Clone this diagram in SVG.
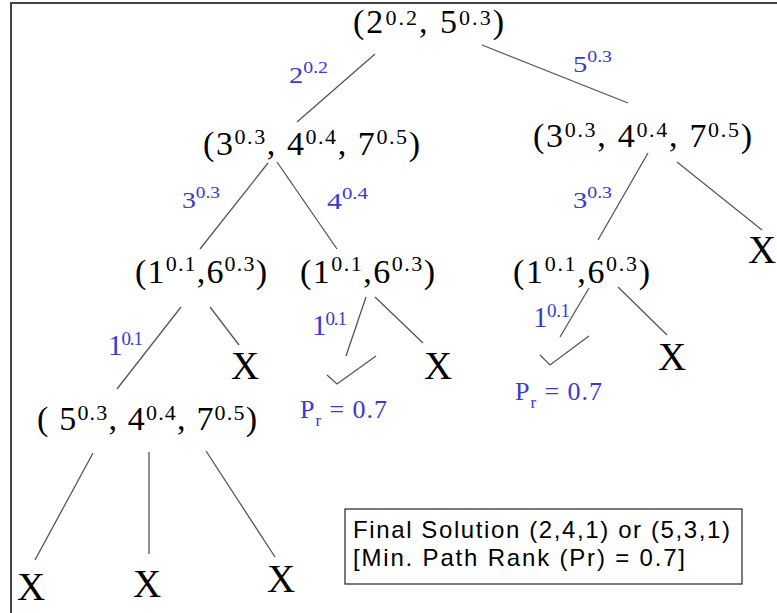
<svg xmlns="http://www.w3.org/2000/svg" width="777" height="613" viewBox="0 0 777 613">
<style>
.m{font-family:"Liberation Serif","Times New Roman",serif;font-size:34px;fill:#000}
.s{font-size:22px}
.x{font-family:"Liberation Serif","Times New Roman",serif;font-size:39px;fill:#000;text-anchor:middle}
.b{font-family:"Liberation Serif","Times New Roman",serif;font-size:23px;fill:#3a3ad0}
.bs{font-size:16px}
.b1{font-family:"Liberation Serif","Times New Roman",serif;font-size:29px;fill:#3a3ad0}
.b1s{font-size:19px}
.p{font-family:"Liberation Serif","Times New Roman",serif;font-size:26px;fill:#3a3ad0}
.ps{font-size:17px}
.c line,.c polyline{stroke:#555;stroke-width:1.3;fill:none}
.box{font-family:"Liberation Sans",Arial,sans-serif;font-size:24px;fill:#000}
</style>
<rect width="777" height="613" fill="#fff"/>
<g id="frame" stroke="#444" stroke-width="2">
<line x1="11" y1="3" x2="777" y2="3"/>
<line x1="11" y1="2" x2="11" y2="613"/>
</g>
<g id="connectors" class="c">
<line x1="375" y1="54" x2="297" y2="122"/>
<line x1="482" y1="45" x2="628" y2="103"/>
<line x1="268" y1="163" x2="200" y2="249"/>
<line x1="277" y1="162" x2="337" y2="249"/>
<line x1="648" y1="153" x2="598" y2="240"/>
<line x1="677" y1="162" x2="762" y2="230"/>
<line x1="181" y1="307" x2="117" y2="389"/>
<line x1="210" y1="307" x2="239" y2="345"/>
<line x1="366" y1="297" x2="346" y2="356"/>
<line x1="375" y1="297" x2="423" y2="343"/>
<line x1="589" y1="288" x2="560" y2="337"/>
<line x1="618" y1="287" x2="667" y2="335"/>
<line x1="93" y1="453" x2="35" y2="560"/>
<line x1="149" y1="452" x2="149" y2="554"/>
<line x1="206" y1="451" x2="275" y2="557"/>
<polyline points="327,375 337,384 376,356"/>
<polyline points="540,355 550,365 589,336"/>
</g>
<g id="edge-labels">
<text class="b" x="289" y="83" textLength="39" lengthAdjust="spacingAndGlyphs">2<tspan class="bs" dy="-10">0.2</tspan></text>
<text class="b" x="573" y="72" textLength="39" lengthAdjust="spacingAndGlyphs">5<tspan class="bs" dy="-10">0.3</tspan></text>
<text class="b" x="182" y="208" textLength="38" lengthAdjust="spacingAndGlyphs">3<tspan class="bs" dy="-10">0.3</tspan></text>
<text class="b" x="327" y="209" textLength="41" lengthAdjust="spacingAndGlyphs">4<tspan class="bs" dy="-10">0.4</tspan></text>
<text class="b" x="573" y="208" textLength="39" lengthAdjust="spacingAndGlyphs">3<tspan class="bs" dy="-10">0.3</tspan></text>
<text class="b1" x="108" y="355" textLength="35" lengthAdjust="spacing">1<tspan class="b1s" dy="-10">0.1</tspan></text>
<text class="b1" x="312" y="335" textLength="35" lengthAdjust="spacing">1<tspan class="b1s" dy="-10">0.1</tspan></text>
<text class="b1" x="533" y="327" textLength="37" lengthAdjust="spacing">1<tspan class="b1s" dy="-10">0.1</tspan></text>
</g>
<g id="root"><text class="m" x="353" y="33" textLength="151" lengthAdjust="spacing">(2<tspan class="s" dy="-8">0.2</tspan><tspan dy="8">, 5</tspan><tspan class="s" dy="-8">0.3</tspan><tspan dy="8">)</tspan></text></g>
<g id="n-left"><text class="m" x="203" y="155" textLength="217" lengthAdjust="spacing">(3<tspan class="s" dy="-11">0.3</tspan><tspan dy="11">, 4</tspan><tspan class="s" dy="-11">0.4</tspan><tspan dy="11">, 7</tspan><tspan class="s" dy="-11">0.5</tspan><tspan dy="11">)</tspan></text></g>
<g id="n-right"><text class="m" x="533" y="147" textLength="219" lengthAdjust="spacing">(3<tspan class="s" dy="-10">0.3</tspan><tspan dy="10">, 4</tspan><tspan class="s" dy="-10">0.4</tspan><tspan dy="10">, 7</tspan><tspan class="s" dy="-10">0.5</tspan><tspan dy="10">)</tspan></text></g>
<g id="n-ll"><text class="m" x="135" y="283" textLength="132" lengthAdjust="spacing">(1<tspan class="s" dy="-12">0.1</tspan><tspan dy="12">,6</tspan><tspan class="s" dy="-12">0.3</tspan><tspan dy="12">)</tspan></text></g>
<g id="n-lr"><text class="m" x="300" y="283" textLength="135" lengthAdjust="spacing">(1<tspan class="s" dy="-12">0.1</tspan><tspan dy="12">,6</tspan><tspan class="s" dy="-12">0.3</tspan><tspan dy="12">)</tspan></text></g>
<g id="n-rl"><text class="m" x="513" y="283" textLength="137" lengthAdjust="spacing">(1<tspan class="s" dy="-12">0.1</tspan><tspan dy="12">,6</tspan><tspan class="s" dy="-12">0.3</tspan><tspan dy="12">)</tspan></text></g>
<g id="n-lll"><text class="m" x="37" y="430" textLength="220" lengthAdjust="spacing">( 5<tspan class="s" dy="-10">0.3</tspan><tspan dy="10">, 4</tspan><tspan class="s" dy="-10">0.4</tspan><tspan dy="10">, 7</tspan><tspan class="s" dy="-10">0.5</tspan><tspan dy="10">)</tspan></text></g>
<g id="x-right"><text class="x" x="762" y="263">X</text></g>
<g id="x-ll"><text class="x" x="245" y="379">X</text></g>
<g id="x-lr"><text class="x" x="438" y="379">X</text></g>
<g id="x-rl"><text class="x" x="672" y="370">X</text></g>
<g id="x-b1"><text class="x" x="31" y="600">X</text></g>
<g id="x-b2"><text class="x" x="147" y="597">X</text></g>
<g id="x-b3"><text class="x" x="281" y="592">X</text></g>
<g id="pr-mid"><text class="p" x="300" y="418" textLength="87" lengthAdjust="spacing">P<tspan class="ps" dy="8">r</tspan><tspan dy="-8"> = 0.7</tspan></text></g>
<g id="pr-right"><text class="p" x="515" y="400" textLength="87" lengthAdjust="spacing">P<tspan class="ps" dy="8">r</tspan><tspan dy="-8"> = 0.7</tspan></text></g>
<g id="solution">
<rect x="345" y="509" width="397" height="75" fill="#fff" stroke="#333" stroke-width="1.3"/>
<text class="box" x="353" y="538" textLength="377" lengthAdjust="spacing">Final Solution (2,4,1) or (5,3,1)</text>
<text class="box" x="353" y="566" textLength="332" lengthAdjust="spacing">[Min. Path Rank (Pr) = 0.7]</text>
</g>
</svg>
